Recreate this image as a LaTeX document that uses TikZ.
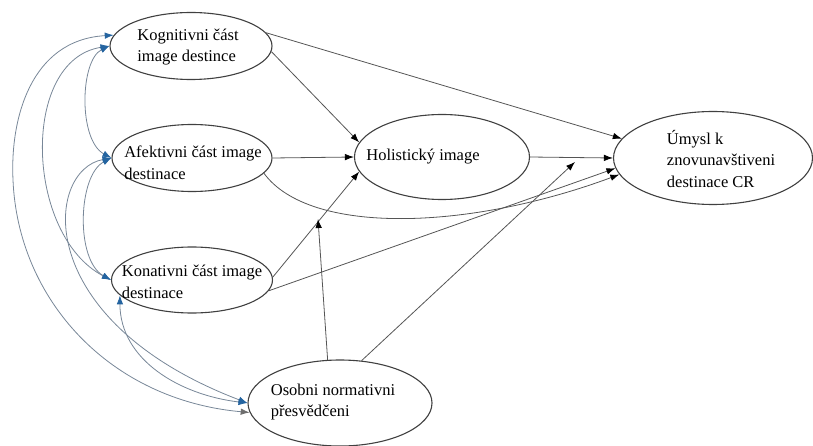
\documentclass[tikz,border=0pt]{standalone}
\usepackage{fontspec}
\setmainfont{Liberation Serif}
\usetikzlibrary{arrows.meta,shapes.geometric}
\definecolor{linegray}{RGB}{85,85,85}
\definecolor{corrgray}{RGB}{120,135,152}
\definecolor{tipblue}{RGB}{36,100,160}
\definecolor{tipgray}{RGB}{110,110,110}

\tikzset{
  construct/.style={draw=black!75, line width=1.1pt, ellipse, inner sep=0pt},
  label text/.style={align=left, font=\fontsize{16.5}{21.5}\selectfont, inner sep=0pt},
  effect/.style={draw=linegray, line width=0.8pt, -{Latex[length=9pt,width=6.5pt,color=black]}},
  corr/.style={draw=corrgray, line width=0.8pt,
    {Latex[length=9pt,width=6.5pt,color=tipblue]}-{Latex[length=9pt,width=6.5pt,color=tipblue]}},
  corr gray end/.style={draw=corrgray, line width=0.8pt,
    {Latex[length=9pt,width=6.5pt,color=tipblue]}-{Latex[length=9pt,width=6.5pt,color=tipgray]}}
}

\begin{document}
\begin{tikzpicture}[x=1pt, y=-1pt]
	\useasboundingbox (0,0) rectangle (813,446);
	
	% constructs
	\node[construct, minimum width=162pt, minimum height=67pt] (K) at (191,46) {};
	\node[construct, minimum width=160pt, minimum height=67pt] (A) at (192,158) {};
	\node[construct, minimum width=161pt, minimum height=66pt] (Kon) at (192,280) {};
	\node[construct, minimum width=175pt, minimum height=85pt] (H) at (442,157) {};
	\node[construct, minimum width=199pt, minimum height=93pt] (U) at (713,158) {};
	\node[construct, minimum width=184pt, minimum height=86pt] (O) at (340,403) {};
	
	\node[label text] (Ktext) at (188,47) {Kognitivni část\\image destince};
	\node[label text] (Atext) at (193,163) {Afektivni část image\\destinace};
	\node[label text] (Kontext) at (192,282) {Konativni část image\\destinace};
	\node[label text] (Htext) at (423,157) {Holistický image};
	\node[label text] (Utext) at (721,159) {Úmysl k\\znovunavštiveni\\destinace CR};
	\node[label text] (Otext) at (333,402) {Osobni normativni\\přesvědčeni};
	
	\coordinate (Htip) at (318,219);
	\coordinate (Utip) at (575,162);
	
	% effects
	\draw[effect] (K.10) -- (U.168);
	\draw[effect] (K.-4) -- (H.170);
	\draw[effect] (A.0) -- (H.180);
	\draw[effect] (A.-12) .. controls (310,236) and (470,230) .. (U.190);
	\draw[effect] (H.0) -- (U.180);
	\draw[effect] (Kon.2) -- (H.190);
	\draw[effect] (Kon.-8) -- (U.186);
	\draw[effect] (O.106) -- (Htip);
	\draw[effect] (O.63) -- (Utip);
	
	% correlations
	\draw[corr gray end] (K.172) .. controls (30,40) and (10,120) .. (13,180)
		.. controls (18,300) and (110,400) .. (O.186);
	\draw[corr] (K.180) .. controls (20,60) and (25,235) .. (Kon.180);
	\draw[corr] (K.180) .. controls (80,60) and (78,140) .. (A.180);
	\draw[corr] (A.180) .. controls (78,175) and (75,260) .. (Kon.180);
	\draw[corr] (A.180) .. controls (45,170) and (30,320) .. (O.180);
	\draw[corr] (Kon.192) .. controls (120,360) and (180,395) .. (O.180);
	
\end{tikzpicture}
\end{document}
